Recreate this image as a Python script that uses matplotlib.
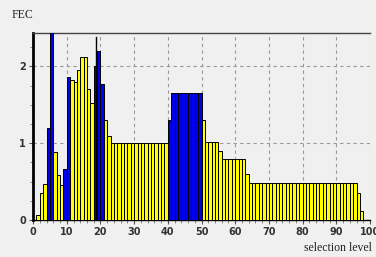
import matplotlib.pyplot as plt
import numpy as np

# selection level (left edge of each unit bar) and FEC value
levels = list(range(1, 98))
fec = [0.07, 0.35, 0.47, 1.2, 2.45, 0.88, 0.58, 0.45, 0.67, 1.86,
       1.82, 1.80, 1.95, 2.12, 2.12, 1.70, 1.52, 2.00, 2.20, 1.77,
       1.30, 1.10] + [1.0] * 17 + [1.3] + [1.65] * 9 + [1.3] \
      + [1.01] * 4 + [0.9] + [0.8] * 7 + [0.6] + [0.48] * 32 + [0.35, 0.12]
# which bars are drawn blue
blue = {4, 5, 9, 10, 18, 19, 20, 40, 41, 42, 43, 44, 45, 46, 47, 48, 49}
spike_x, spike_y = 18.6, 2.38

colors = ['#0000f0' if x in blue else '#ffff00' for x in levels]

bg = '#f0f0f0'
fig = plt.figure(figsize=(3.76, 2.57), dpi=100, facecolor=bg)
ax = fig.add_axes([0.088, 0.144, 0.896, 0.726], facecolor=bg)

ax.bar(levels, fec, width=1, align='edge', color=colors,
       edgecolor='black', linewidth=0.7, zorder=3)
ax.plot([spike_x, spike_x], [0, spike_y], color='black', lw=1, zorder=4)

ax.set_xlim(0, 100)
ax.set_ylim(0, 2.43)
ax.set_xticks(np.arange(0, 101, 10))
ax.set_xticks(np.arange(0, 101, 2), minor=True)
ax.set_yticks([0, 1, 2])
ax.set_yticks(np.arange(0, 2.43, 0.25), minor=True)
ax.tick_params(which='major', length=3, width=0.8, colors='#555555',
               labelcolor='#333333', labelsize=7, pad=2)
ax.tick_params(which='minor', length=2, width=0.6, colors='#777777')
for lab in ax.get_xticklabels() + ax.get_yticklabels():
    lab.set_fontweight('bold')

ax.grid(True, which='major', linestyle=(0, (3, 3)), color='#999999',
        linewidth=0.8, zorder=1)
ax.spines['right'].set_visible(False)
ax.spines['top'].set_color('#444444')
ax.spines['top'].set_linewidth(1)
ax.spines['left'].set_color('black')
ax.spines['left'].set_linewidth(2)
ax.spines['bottom'].set_color('black')
ax.spines['bottom'].set_linewidth(1)

fig.text(0.032, 0.94, 'FEC', family='Liberation Serif', fontsize=8.5,
         color='#222222', va='center')
fig.text(0.99, 0.035, 'selection level', family='Liberation Serif',
         fontsize=8.5, color='#222222', ha='right', va='center')

fig.savefig('out.png', dpi=100, facecolor=bg)
